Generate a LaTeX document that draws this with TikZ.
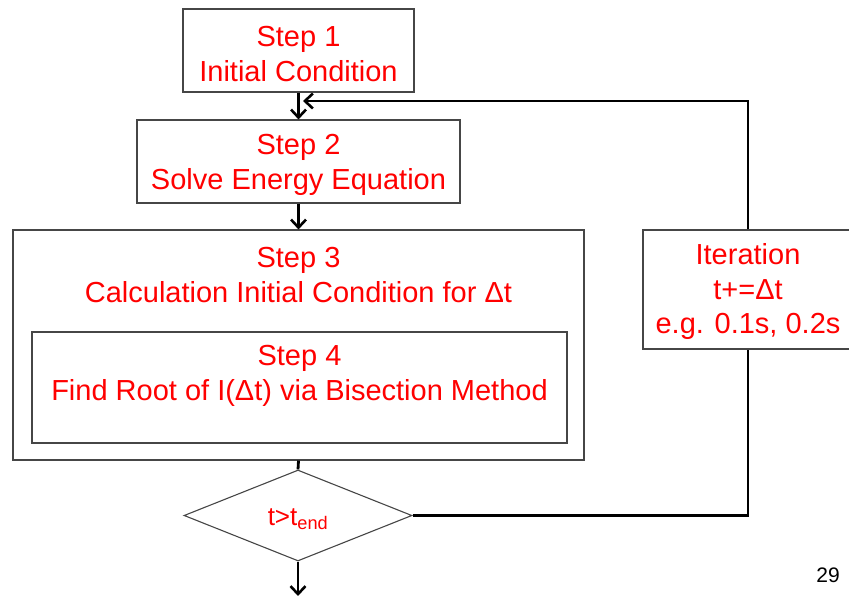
\documentclass[tikz,border=0pt]{standalone}
\usepackage{fontspec}
\setmainfont{Liberation Sans}
\usetikzlibrary{arrows.meta,shapes.geometric}
\definecolor{boxline}{RGB}{70,70,70}
\definecolor{txtred}{RGB}{255,0,0}
\begin{document}
\begin{tikzpicture}[x=1pt,y=-1pt,
  stepbox/.style={draw=boxline,line width=1.1pt,fill=white,inner sep=0pt},
  lbl/.style={text=txtred,font=\fontsize{29}{34.5}\selectfont,align=center,inner sep=0pt},
  conn/.style={draw=black,line width=2.8pt},
  arr/.style={conn,-{Straight Barb[length=8pt,width=15pt,line width=2.6pt]}},
  decision/.style={diamond,draw=boxline,line width=1.1pt,fill=white,inner sep=0pt,
    minimum width=228pt,minimum height=91pt,aspect=2.5}]
\useasboundingbox (0,0) rectangle (849,596);
% boxes
\node[stepbox,minimum width=231pt,minimum height=83pt] (s1) at (298.5,50.5) {};
\node[lbl] (t1) at (298.5,54) {Step 1\\Initial Condition};
\node[stepbox,minimum width=323pt,minimum height=83pt] (s2) at (298.5,161.5) {};
\node[lbl] (t2) at (298.5,165) {Step 2\\Solve Energy Equation};
\node[stepbox,minimum width=571pt,minimum height=230pt] (s3) at (298.5,345) {};
\node[lbl] (t3) at (298.5,275) {Step 3\\Calculation Initial Condition for Δt};
\node[stepbox,minimum width=535pt,minimum height=111pt] (s4) at (299.5,387.5) {};
\node[lbl] (t4) at (299.5,376) {Step 4\\Find Root of I(Δt) via Bisection Method};
\node[decision] (d) at (298,515.5) {};
\node[text=txtred,font=\fontsize{26}{28}\selectfont,inner sep=0pt] (dt) at (298,519) {t>t\textsubscript{end}};
\node[stepbox,minimum width=210pt,minimum height=119pt] (it) at (748,289.5) {};
\node[lbl] (ti) at (748,292) {Iteration\\t+=Δt\\e.g. 0.1s, 0.2s};
\node[font=\fontsize{21}{24}\selectfont,inner sep=0pt] (pg) at (828,575) {29};
% connectors
\coordinate (endp) at (298,596);
\coordinate (fb) at (303,101);
\draw[arr] (s1.south) -- (s2.north);
\draw[arr] (s2.south) -- (s3.north);
\draw[conn] (s3.south) -- (d.north);
\draw[arr] (d.south) -- (endp);
\draw[conn] (d.east) -| (it.south);
\draw[arr] (it.north) |- (fb);
\end{tikzpicture}
\end{document}
